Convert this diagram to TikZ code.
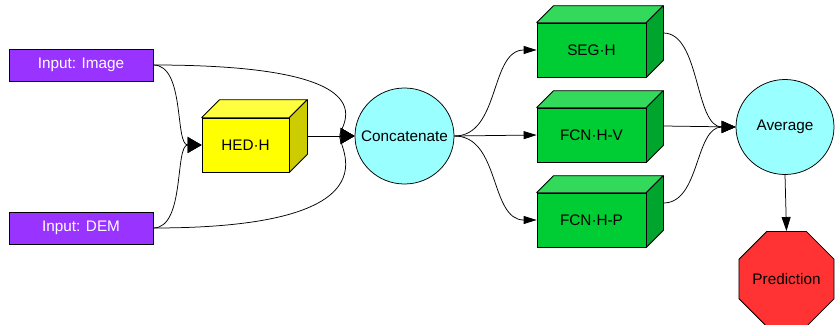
\documentclass[tikz,border=0pt]{standalone}
\usepackage{fontspec}
\setmainfont{Liberation Sans}
\usetikzlibrary{arrows.meta,shapes.geometric,calc}
\definecolor{inpurple}{HTML}{9933FF}
\definecolor{yfront}{HTML}{FFFF00}
\definecolor{ytop}{HTML}{FFFF40}
\definecolor{yside}{HTML}{CCCC00}
\definecolor{gfront}{HTML}{00CC33}
\definecolor{gtop}{HTML}{33D95A}
\definecolor{gside}{HTML}{00A52E}
\definecolor{cyanfill}{HTML}{99FFFF}
\definecolor{redfill}{HTML}{FF3333}
\newcommand\cubefaces[4]{%
  \filldraw[fill=#3,line join=round] (#1.north west) -- ++(#2,-#2) -- ($(#1.north east)+(#2,-#2)$) -- (#1.north east) -- cycle;
  \filldraw[fill=#4,line join=round] (#1.north east) -- ++(#2,-#2) -- ($(#1.south east)+(#2,-#2)$) -- (#1.south east) -- cycle;}
\begin{document}
\begin{tikzpicture}[x=1pt,y=-1pt,
  font=\fontsize{15.3}{18}\selectfont,
  line width=0.75pt,
  inbox/.style={draw=black, fill=inpurple, text=white, minimum width=144pt, minimum height=32pt, inner sep=0pt},
  cubefront/.style={draw=black, minimum height=54pt, inner sep=0pt},
  disc/.style={ellipse, draw=black, fill=cyanfill, inner sep=0pt},
  bigarr/.style={-{Triangle[length=14pt,width=16pt]}},
  garr/.style={-{Triangle[length=13pt,width=8pt]}},
  aarr/.style={-{Triangle[length=14pt,width=12pt]}},
  parr/.style={-{Triangle[length=14pt,width=9pt]}}
]
\useasboundingbox (0,0) rectangle (835,324);

\node[inbox] (img) at (81,65) {Input: Image};
\node[inbox] (dem) at (81,228) {Input: DEM};

\node[cubefront, fill=yfront, minimum width=87pt] (hed) at (245.5,145) {HED·H};
\cubefaces{hed}{18}{ytop}{yside}

\node[disc, minimum width=99pt, minimum height=96pt, label=center:Concatenate] (concat) at (404.5,136) {};

\node[cubefront, fill=gfront, minimum width=109pt] (seg) at (591.5,50) {SEG·H};
\cubefaces{seg}{17}{gtop}{gside}
\node[cubefront, fill=gfront, minimum width=109pt] (fcnv) at (591.5,135) {FCN·H-V};
\cubefaces{fcnv}{17}{gtop}{gside}
\node[cubefront, fill=gfront, minimum width=109pt] (fcnp) at (591.5,220) {FCN·H-P};
\cubefaces{fcnp}{17}{gtop}{gside}

\node[disc, minimum width=98pt, minimum height=95pt, label=center:Average] (avg) at (785,127) {};

\node[regular polygon, regular polygon sides=8, draw=black, fill=redfill, minimum size=103pt, inner sep=0pt, label=center:Prediction] (pred) at (786.5,279) {};

\coordinate (hedout) at ($(hed.east)+(18,-9)$);
\coordinate (segout) at ($(seg.east)+(17,-17)$);
\coordinate (fcnvout) at ($(fcnv.east)+(17,-9)$);
\coordinate (fcnpout) at ($(fcnp.east)+(17,-17)$);

\draw[bigarr] (img.east) .. controls +(32,0) and +(-27,0) .. (hed.west);
\draw[bigarr] (dem.east) .. controls +(32,0) and +(-27,0) .. (hed.west);
\draw[bigarr] (img.east) .. controls +(262,0) and +(-25,0) .. (concat.west);
\draw[bigarr] (dem.east) .. controls +(262,0) and +(-25,0) .. (concat.west);
\draw[bigarr] (hedout) -- (concat.west);

\draw[garr] (concat.east) .. controls +(46,0) and +(-47,0) .. (seg.west);
\draw[garr] (concat.east) -- (fcnv.west);
\draw[garr] (concat.east) .. controls +(46,0) and +(-47,0) .. (fcnp.west);

\draw[aarr] (segout) .. controls +(37,0) and +(-41,0) .. (avg.west);
\draw[aarr] (fcnvout) -- (avg.west);
\draw[aarr] (fcnpout) .. controls +(37,0) and +(-41,0) .. (avg.west);

\draw[parr] (avg.south) -- (pred.north);
\end{tikzpicture}
\end{document}
